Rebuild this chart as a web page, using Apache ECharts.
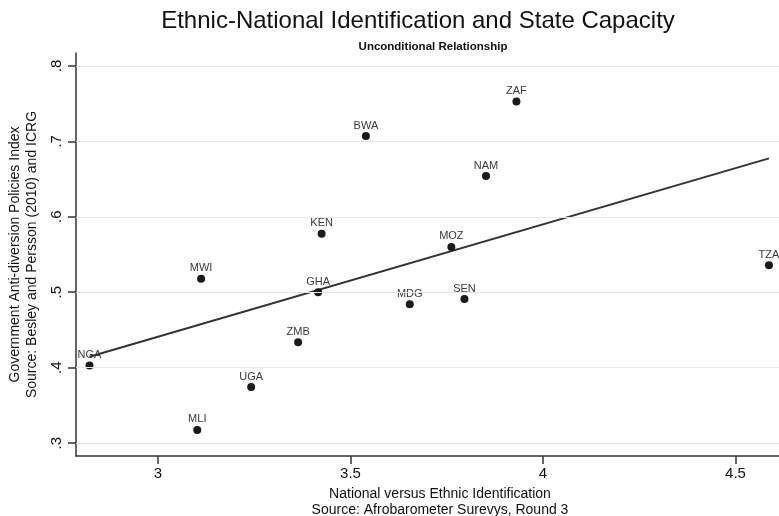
<!DOCTYPE html>
<html>
<head>
<meta charset="utf-8">
<script src="https://cdn.jsdelivr.net/npm/echarts@6/dist/echarts.min.js"></script>
<style>
html,body{margin:0;padding:0;background:#fff;}
#chart{width:779px;height:516px;}
</style>
</head>
<body>
<div id="chart"></div>
<script>
// Country codes
const countries = ['NGA','MWI','KEN','GHA','MDG','ZMB','UGA','MLI','MOZ','ZAF','BWA','NAM','SEN','TZA'];
// National versus Ethnic Identification
const identification = [2.822, 3.112, 3.425, 3.416, 3.654, 3.364, 3.242, 3.102, 3.762, 3.931, 3.540, 3.852, 3.796, 4.587];
// Government Anti-diversion Policies Index
const antiDiversion = [0.403, 0.518, 0.5775, 0.500, 0.484, 0.4336, 0.3744, 0.3175, 0.560, 0.7528, 0.7069, 0.654, 0.491, 0.5356];
// Fitted line endpoints
const fitX = [2.822, 4.587];
const fitY = [0.4146, 0.6774];
// Tick labels
const xTicks = [3, 3.5, 4, 4.5];
const yTicks = [0.3, 0.4, 0.5, 0.6, 0.7, 0.8];

const FONT = 'Liberation Sans, Arial, sans-serif';
const chart = echarts.init(document.getElementById('chart'), null, {renderer: 'canvas'});

const points = countries.map((c, i) => ({name: c, value: [identification[i], antiDiversion[i]]}));
const fitData = fitX.map((x, i) => [x, fitY[i]]);

chart.setOption({
  animation: false,
  backgroundColor: '#ffffff',
  title: [
    {text: 'Ethnic-National Identification and State Capacity', left: 413, top: 4, textAlign: 'center',
     textStyle: {fontFamily: FONT, fontSize: 24, fontWeight: 'normal', color: '#111'}},
    {text: 'Unconditional Relationship', left: 428, top: 36, textAlign: 'center',
     textStyle: {fontFamily: 'Liberation Sans Narrow, Arial Narrow, sans-serif', fontSize: 11.5, fontWeight: 'bold', color: '#111'}}
  ],
  grid: {left: 76, top: 53, right: -25, bottom: 60, containLabel: false, outerBoundsMode: 'none'},
  xAxis: {
    type: 'value', min: 2.787, max: 4.678,
    name: 'National versus Ethnic Identification\nSource: Afrobarometer Surevys, Round 3',
    nameLocation: 'middle', nameGap: 21,
    nameTextStyle: {fontFamily: FONT, fontSize: 14, color: '#111', lineHeight: 16},
    axisLine: {show: true, onZero: false, lineStyle: {color: '#333', width: 1.5}},
    axisTick: {show: true, length: 8, lineStyle: {color: '#333', width: 1.5}, customValues: xTicks},
    axisLabel: {fontFamily: FONT, fontSize: 15, color: '#111', margin: 10, customValues: xTicks,
                formatter: v => String(v)},
    splitLine: {show: false}
  },
  yAxis: {
    type: 'value', min: 0.283, max: 0.817,
    name: 'Government Anti-diversion Policies Index\nSource: Besley and Persson (2010) and ICRG',
    nameLocation: 'middle', nameGap: 34, nameRotate: 90,
    nameTextStyle: {fontFamily: FONT, fontSize: 14, color: '#111', lineHeight: 17},
    axisLine: {show: true, onZero: false, lineStyle: {color: '#333', width: 1.5}},
    axisTick: {show: true, length: 8, lineStyle: {color: '#333', width: 1.5}, customValues: yTicks},
    axisLabel: {fontFamily: FONT, fontSize: 15, color: '#111', rotate: 90, margin: 12, customValues: yTicks,
                formatter: v => String(v).replace(/^0/, '')},
    splitLine: {show: false}
  },
  series: [
    {
      type: 'line', data: [], silent: true,
      markLine: {
        silent: true, symbol: 'none', label: {show: false},
        lineStyle: {color: '#e6e6e6', width: 1, type: 'solid'},
        data: yTicks.map(v => ({yAxis: v}))
      }
    },
    {
      type: 'line', data: fitData, showSymbol: false, symbol: 'none',
      lineStyle: {color: '#333', width: 2}, z: 3
    },
    {
      type: 'scatter', data: points, symbol: 'circle', symbolSize: 8,
      itemStyle: {color: '#1a1a1a', opacity: 1}, z: 4,
      label: {show: true, position: 'top', distance: 1, formatter: p => p.name,
              fontFamily: FONT, fontSize: 11, color: '#3a3a3a'}
    }
  ]
});
</script>
</body>
</html>
